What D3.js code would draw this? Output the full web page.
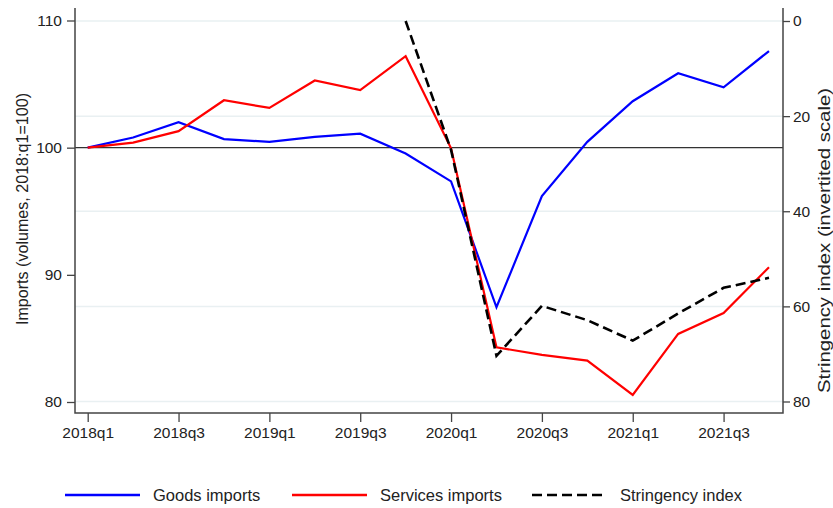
<!DOCTYPE html>
<html>
<head>
<meta charset="utf-8">
<script src="https://cdn.jsdelivr.net/npm/d3@7"></script>
<style>
  body { margin: 0; background: #fff; }
  svg { display: block; font-family: "Liberation Sans", Arial, sans-serif; }
</style>
</head>
<body>
<div id="chart"></div>
<script>
  const quarters = ["2018q1","2018q2","2018q3","2018q4","2019q1","2019q2","2019q3","2019q4",
                    "2020q1","2020q2","2020q3","2020q4","2021q1","2021q2","2021q3","2021q4"];
  const goods = [100, 100.8, 102.0, 100.67, 100.46, 100.85, 101.1, 99.54,
                 97.35, 87.45, 96.2, 100.46, 103.65, 105.85, 104.75, 107.6];
  const services = [100, 100.4, 101.3, 103.73, 103.13, 105.28, 104.52, 107.19,
                    99.95, 84.3, 83.7, 83.25, 80.56, 85.35, 87.0, 90.6];
  const stringency = [null, null, null, null, null, null, null, 0,
                      27.1, 70.4, 59.9, 62.9, 67.2, 61.5, 56.1, 54.0];
  const leftTicks = [80, 90, 100, 110];
  const rightTicks = [0, 20, 40, 60, 80];
  const xTickLabels = ["2018q1","2018q3","2019q1","2019q3","2020q1","2020q3","2021q1","2021q3"];

  const width = 833, height = 508;
  const plot = { left: 75, right: 783, top: 8, bottom: 413 };

  const svg = d3.select("#chart").append("svg")
    .attr("width", width)
    .attr("height", height);

  const x = d3.scalePoint().domain(quarters).range([87.7, 769]);
  const yL = d3.scaleLinear().domain([80, 110]).range([402, 20.5]);
  const yR = d3.scaleLinear().domain([0, 80]).range([21, 401.5]);

  // gridlines follow the right axis
  svg.append("g").selectAll("line")
    .data(rightTicks)
    .join("line")
    .attr("x1", plot.left).attr("x2", plot.right)
    .attr("y1", d => yR(d)).attr("y2", d => yR(d))
    .attr("stroke", "#e9f0f2")
    .attr("stroke-width", 1.5);

  // reference line at 100
  svg.append("line")
    .attr("x1", plot.left).attr("x2", plot.right)
    .attr("y1", yL(100)).attr("y2", yL(100))
    .attr("stroke", "#333")
    .attr("stroke-width", 1.2);

  const axisColor = "#444";
  const tickFont = "15.5px";

  // left axis
  const gL = svg.append("g")
    .attr("transform", `translate(${plot.left},0)`)
    .call(d3.axisLeft(yL).tickValues(leftTicks).tickSize(8).tickPadding(5));
  gL.select(".domain").remove();

  // right axis
  const gR = svg.append("g")
    .attr("transform", `translate(${plot.right},0)`)
    .call(d3.axisRight(yR).tickValues(rightTicks).tickSize(7).tickPadding(3));
  gR.select(".domain").remove();

  // bottom axis
  const gB = svg.append("g")
    .attr("transform", `translate(0,${plot.bottom})`)
    .call(d3.axisBottom(x).tickValues(xTickLabels).tickSize(9).tickPadding(5));
  gB.select(".domain").remove();

  [gL, gR, gB].forEach(g => {
    g.selectAll("line").attr("stroke", axisColor).attr("stroke-width", 1.3);
    g.selectAll("text").attr("fill", "#222").style("font-size", tickFont).attr("font-family", null);
  });

  // axis frame lines
  svg.append("path")
    .attr("d", `M${plot.left},${plot.top}V${plot.bottom}H${plot.right}V${plot.top}`)
    .attr("fill", "none")
    .attr("stroke", axisColor)
    .attr("stroke-width", 1.5);

  // axis titles
  svg.append("text")
    .attr("transform", "translate(28,209) rotate(-90)")
    .attr("text-anchor", "middle")
    .attr("textLength", 232)
    .attr("lengthAdjust", "spacingAndGlyphs")
    .style("font-size", "16px")
    .attr("fill", "#222")
    .text("Imports (volumes, 2018:q1=100)");

  svg.append("text")
    .attr("transform", "translate(830,240.5) rotate(-90)")
    .attr("text-anchor", "middle")
    .attr("textLength", 305)
    .attr("lengthAdjust", "spacingAndGlyphs")
    .style("font-size", "16px")
    .attr("fill", "#222")
    .text("Stringency index (invertited scale)");

  // lines
  const lineL = d3.line()
    .x((d, i) => x(quarters[i]))
    .y(d => yL(d));
  const lineR = d3.line()
    .defined(d => d !== null)
    .x((d, i) => x(quarters[i]))
    .y(d => yR(d));

  svg.append("path")
    .datum(goods)
    .attr("d", lineL)
    .attr("fill", "none")
    .attr("stroke", "#0000ff")
    .attr("stroke-width", 2.2);

  svg.append("path")
    .datum(services)
    .attr("d", lineL)
    .attr("fill", "none")
    .attr("stroke", "#ff0000")
    .attr("stroke-width", 2.2);

  svg.append("path")
    .datum(stringency)
    .attr("d", lineR)
    .attr("fill", "none")
    .attr("stroke", "#000")
    .attr("stroke-width", 2.6)
    .attr("stroke-dasharray", "10,5");

  // legend
  const legendItems = [
    { label: "Goods imports", color: "#0000ff", dash: null, x: 65 },
    { label: "Services imports", color: "#ff0000", dash: null, x: 292 },
    { label: "Stringency index", color: "#000", dash: "10,5", x: 532 }
  ];
  const legendY = 495;
  const lg = svg.append("g").selectAll("g")
    .data(legendItems)
    .join("g")
    .attr("transform", d => `translate(${d.x},${legendY})`);
  lg.append("line")
    .attr("x1", 0).attr("x2", 75)
    .attr("stroke", d => d.color)
    .attr("stroke-width", 2.4)
    .attr("stroke-dasharray", d => d.dash);
  lg.append("text")
    .attr("x", 88)
    .attr("dy", "0.35em")
    .style("font-size", "16.5px")
    .attr("fill", "#222")
    .text(d => d.label);
</script>
</body>
</html>
